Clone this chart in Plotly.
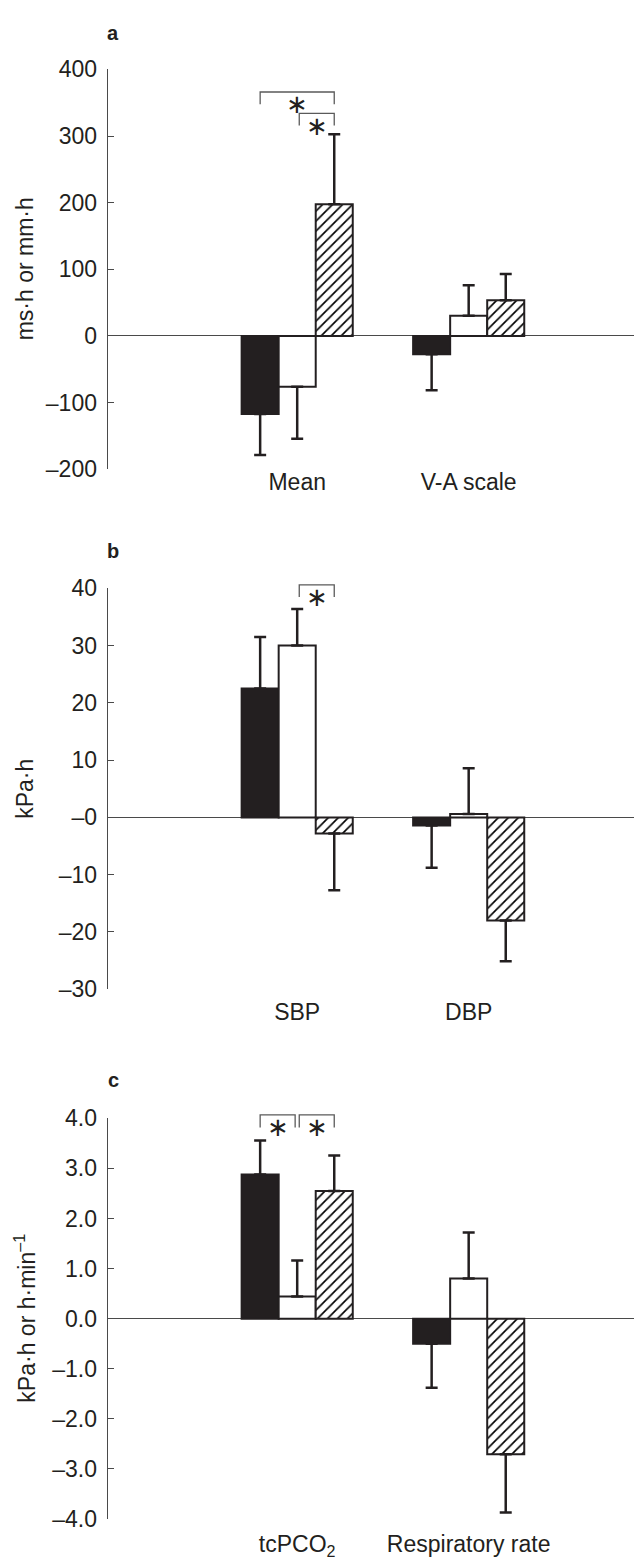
import plotly.graph_objects as go

# ---------------- data ----------------
groups_a = ["Mean", "V-A scale"]
black_a = [-117, -27.5]
white_a = [-76, 30.5]
hatch_a = [197.6, 53.6]
black_a_err = [61.5, 54]
white_a_err = [78, 45.5]
hatch_a_err = [105, 39.4]
yticks_a = [-200, -100, 0, 100, 200, 300, 400]
yticktext_a = ["–200", "–100", "0", "100", "200", "300", "400"]

groups_b = ["SBP", "DBP"]
black_b = [22.5, -1.4]
white_b = [30.0, 0.6]
hatch_b = [-2.8, -18.0]
black_b_err = [9.0, 7.4]
white_b_err = [6.4, 8.0]
hatch_b_err = [9.9, 7.1]
yticks_b = [-30, -20, -10, 0, 10, 20, 30, 40]
yticktext_b = ["–30", "–20", "–10", "–0", "10", "20", "30", "40"]

groups_c = ["tcPCO<sub>2</sub>", "Respiratory rate"]
black_c = [2.88, -0.5]
white_c = [0.44, 0.8]
hatch_c = [2.55, -2.71]
black_c_err = [0.68, 0.88]
white_c_err = [0.72, 0.92]
hatch_c_err = [0.71, 1.16]
yticks_c = [-4, -3, -2, -1, 0, 1, 2, 3, 4]
yticktext_c = ["–4.0", "–3.0", "–2.0", "–1.0", "0.0", "1.0", "2.0", "3.0", "4.0"]

# significance brackets: (group, from bar, to bar, top y, leg y)
brackets_a = [(0, 0, 2, 366, 347.6), (0, 1, 2, 334, 315.6)]
brackets_b = [(0, 1, 2, 40.6, 38.5)]
brackets_c = [(0, 0, 1, 4.07, 3.82), (0, 1, 2, 4.07, 3.82)]

titles = ["ms·h or mm·h", "kPa·h", "kPa·h or h·min<sup>–1</sup>"]
letters = ["a", "b", "c"]

# ---------------- style ----------------
W, H = 634, 1568
INK = "#231f20"
AXC = "#4a4a4a"
FONT = "Liberation Sans, Arial, sans-serif"
BAR_W = 0.216
GAP = 0.012
EXTRA_PX = 40  # headroom for brackets above the axis top

panels_px = [(57.3, 464.0), (585.0, 992.7), (1124.0, 1531.3)]
xleft_px = 107.7
xrange_ = [-1.105, 1.964]
x_standoff = [-3, 7, 9]

fig = go.Figure()

panels = [
    (groups_a, [black_a, white_a, hatch_a], [black_a_err, white_a_err, hatch_a_err],
     yticks_a, yticktext_a, brackets_a),
    (groups_b, [black_b, white_b, hatch_b], [black_b_err, white_b_err, hatch_b_err],
     yticks_b, yticktext_b, brackets_b),
    (groups_c, [black_c, white_c, hatch_c], [black_c_err, white_c_err, hatch_c_err],
     yticks_c, yticktext_c, brackets_c),
]

annotations = []
for i, (groups, series, errs, yt, ytt, brs) in enumerate(panels):
    sfx = "" if i == 0 else str(i + 1)
    xa, ya = "x" + sfx, "y" + sfx
    osfx = str(i + 4)
    oxa, oya = "x" + osfx, "y" + osfx
    xs = [0, 1]
    for k, (vals, ev) in enumerate(zip(series, errs)):
        plus = [e if v >= 0 else 0 for v, e in zip(vals, ev)]
        minus = [e if v < 0 else 0 for v, e in zip(vals, ev)]
        if k == 0:
            marker = dict(color=INK, line=dict(color=INK, width=2))
        elif k == 1:
            marker = dict(color="white", line=dict(color=INK, width=2))
        else:
            marker = dict(color="white", line=dict(color=INK, width=2),
                          pattern=dict(shape="/", fgcolor="#000000", bgcolor="white",
                                       fgopacity=1, size=7.0711, solidity=0.24))
        fig.add_trace(go.Bar(
            x=xs, y=vals, xaxis=xa, yaxis=ya, marker=marker,
            error_y=dict(type="data", symmetric=False, array=plus, arrayminus=minus,
                         color=INK, thickness=2.5, width=6),
            showlegend=False, hoverinfo="skip", offsetgroup=str(k),
        ))

    top_px, bot_px = panels_px[i]
    span = yt[-1] - yt[0]
    px_per_unit = (bot_px - top_px) / span
    dom = [1 - bot_px / H, 1 - top_px / H]
    odom = [1 - bot_px / H, 1 - (top_px - EXTRA_PX) / H]
    orange = [yt[0], yt[-1] + EXTRA_PX / px_per_unit]

    # brackets and stars on an invisible twin pair with extra headroom
    for (g, b0, b1, top, leg) in brs:
        x0 = g + (b0 - 1) * BAR_W + (GAP if b0 == 1 else 0)
        x1 = g + (b1 - 1) * BAR_W - (GAP if (b1 == 1) else 0)
        fig.add_trace(go.Scatter(
            x=[x0, x0, x1, x1], y=[leg, top, top, leg], mode="lines",
            line=dict(color="#5a5a5a", width=1.3), xaxis=oxa, yaxis=oya,
            showlegend=False, hoverinfo="skip"))
        annotations.append(dict(
            x=(x0 + x1) / 2, y=leg, xref=oxa, yref=oya, text="∗", showarrow=False,
            font=dict(family="DejaVu Sans", size=26, color=INK),
            xanchor="center", yanchor="middle"))

    fig.layout["xaxis" + sfx] = dict(
        domain=[xleft_px / W, 1.0], range=xrange_, anchor=ya,
        tickmode="array", tickvals=xs, ticktext=groups, ticks="",
        showline=False, showgrid=False, zeroline=False,
        tickfont=dict(family=FONT, size=23, color=INK),
        ticklabelstandoff=x_standoff[i], fixedrange=True)
    fig.layout["yaxis" + sfx] = dict(
        domain=dom, range=[yt[0], yt[-1]], anchor=xa,
        tickmode="array", tickvals=yt, ticktext=ytt,
        ticks="inside", ticklen=6, tickwidth=1.2, tickcolor=AXC,
        showline=True, linecolor=AXC, linewidth=1.2,
        showgrid=False, zeroline=True, zerolinecolor=AXC, zerolinewidth=1.2,
        tickfont=dict(family=FONT, size=23, color=INK),
        ticklabelstandoff=5, fixedrange=True)
    fig.layout["xaxis" + osfx] = dict(
        domain=[xleft_px / W, 1.0], range=xrange_, anchor=oya,
        visible=False, fixedrange=True)
    fig.layout["yaxis" + osfx] = dict(
        domain=odom, range=orange, anchor=oxa, visible=False, fixedrange=True)

    annotations.append(dict(
        x=25 / W, y=1 - (top_px + bot_px) / 2 / H, xref="paper", yref="paper",
        text=titles[i], textangle=-90, showarrow=False,
        font=dict(family=FONT, size=23, color=INK),
        xanchor="center", yanchor="middle"))

letter_y_px = [20, 546.7, 1084.7]
for i, L in enumerate(letters):
    annotations.append(dict(
        x=113 / W, y=1 - letter_y_px[i] / H, xref="paper", yref="paper",
        text="<b>%s</b>" % L, showarrow=False,
        font=dict(family=FONT, size=20, color=INK),
        xanchor="center", yanchor="middle"))

fig.update_layout(
    width=W, height=H, margin=dict(l=0, r=0, t=0, b=0),
    paper_bgcolor="white", plot_bgcolor="rgba(0,0,0,0)",
    barmode="group", bargap=1 - 3 * BAR_W, bargroupgap=0,
    annotations=annotations, showlegend=False,
)

fig.write_html("out.html", config={"displayModeBar": False})
